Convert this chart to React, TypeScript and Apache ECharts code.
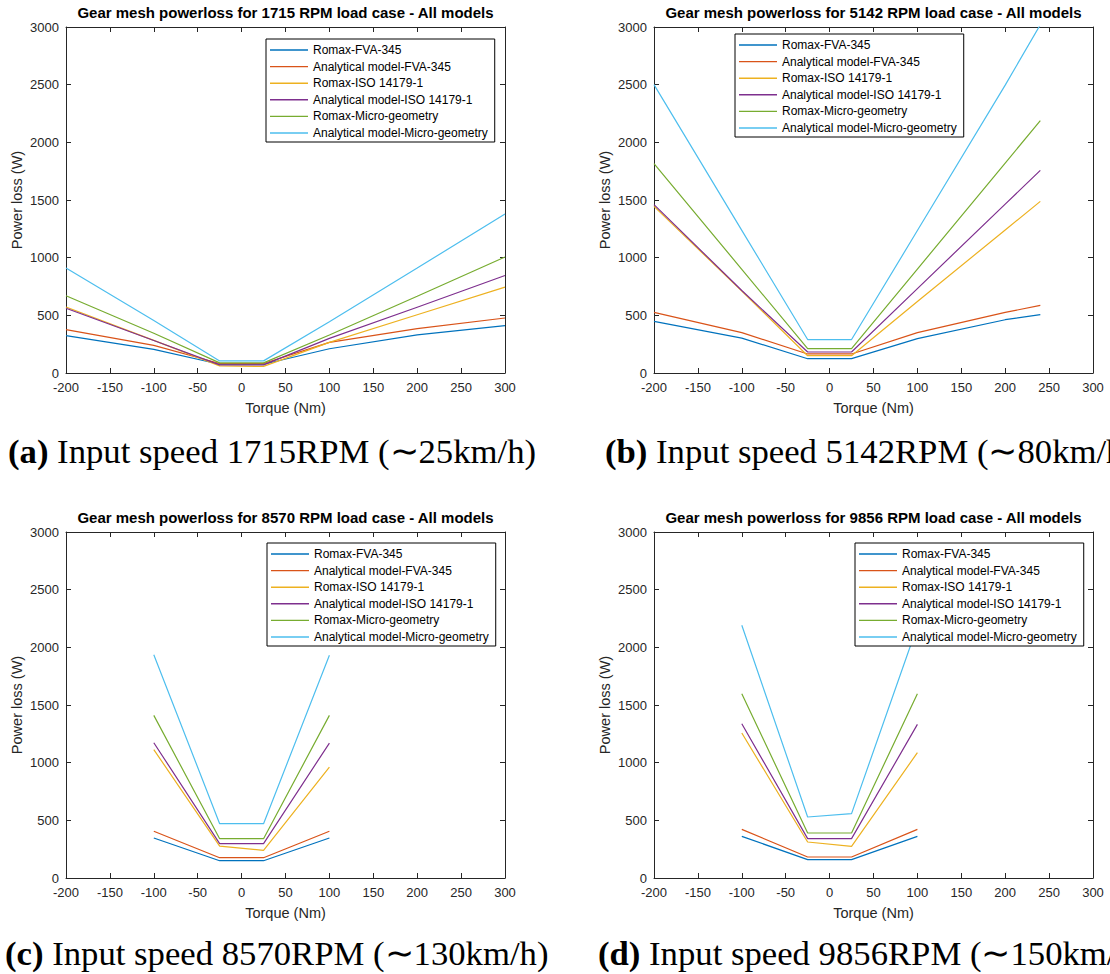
import React, { useEffect, useRef } from "react";
import * as echarts from "echarts";

// ---------- data ----------
const SERIES_NAMES = [
  "Romax-FVA-345",
  "Analytical model-FVA-345",
  "Romax-ISO 14179-1",
  "Analytical model-ISO 14179-1",
  "Romax-Micro-geometry",
  "Analytical model-Micro-geometry",
];
const COLORS = ["#0072BD", "#D95319", "#EDB120", "#7E2F8E", "#77AC30", "#4DBEEE"];

const X_MIN = -200;
const X_MAX = 300;
const X_STEP = 50;
const Y_MIN = 0;
const Y_MAX = 3000;
const Y_STEP = 500;

// 1715 RPM
const TORQUE_1715 = [-200, -100, -25, 25, 100, 200, 300];
const P1715_ROMAX_FVA = [324, 205, 76, 76, 210, 330, 410];
const P1715_ANA_FVA = [376, 240, 82, 82, 265, 385, 477];
const P1715_ROMAX_ISO = [572, 283, 62, 57, 265, 505, 744];
const P1715_ANA_ISO = [561, 282, 70, 70, 300, 570, 845];
const P1715_ROMAX_MICRO = [670, 345, 88, 88, 330, 665, 1006];
const P1715_ANA_MICRO = [911, 455, 105, 105, 445, 910, 1379];

// 5142 RPM
const TORQUE_5142 = [-200, -100, -25, 25, 100, 200, 240];
const P5142_ROMAX_FVA = [448, 303, 124, 124, 298, 462, 506];
const P5142_ANA_FVA = [526, 350, 165, 165, 350, 525, 587];
const P5142_ROMAX_ISO = [1445, 710, 150, 150, 620, 1240, 1488];
const P5142_ANA_ISO = [1460, 715, 182, 182, 732, 1464, 1757];
const P5142_ROMAX_MICRO = [1815, 899, 211, 211, 901, 1820, 2188];
const P5142_ANA_MICRO = [2500, 1237, 290, 290, 1235, 2496, 3020];

// 8570 RPM
const TORQUE_8570 = [-100, -25, 25, 100];
const P8570_ROMAX_FVA = [347, 150, 150, 347];
const P8570_ANA_FVA = [405, 176, 176, 405];
const P8570_ROMAX_ISO = [1113, 277, 240, 962];
const P8570_ANA_ISO = [1173, 298, 298, 1170];
const P8570_ROMAX_MICRO = [1410, 341, 341, 1410];
const P8570_ANA_MICRO = [1936, 471, 471, 1931];

// 9856 RPM
const TORQUE_9856 = [-100, -25, 25, 100];
const P9856_ROMAX_FVA = [361, 159, 159, 361];
const P9856_ANA_FVA = [422, 182, 182, 422];
const P9856_ROMAX_ISO = [1257, 312, 275, 1087];
const P9856_ANA_ISO = [1338, 341, 341, 1332];
const P9856_ROMAX_MICRO = [1598, 390, 390, 1598];
const P9856_ANA_MICRO = [2191, 529, 558, 2185];

const TITLES = [
  "Gear mesh powerloss for 1715 RPM load case - All models",
  "Gear mesh powerloss for 5142 RPM load case - All models",
  "Gear mesh powerloss for 8570 RPM load case - All models",
  "Gear mesh powerloss for 9856 RPM load case - All models",
];
const CAPTION_TAGS = ["(a)", "(b)", "(c)", "(d)"];
const CAPTIONS = [
  "Input speed 1715RPM (∼25km/h)",
  "Input speed 5142RPM (∼80km/h)",
  "Input speed 8570RPM (∼130km/h)",
  "Input speed 9856RPM (∼150km/h)",
];
const X_NAME = "Torque (Nm)";
const Y_NAME = "Power loss (W)";

const PANEL_DATA = [
  { torque: TORQUE_1715, values: [P1715_ROMAX_FVA, P1715_ANA_FVA, P1715_ROMAX_ISO, P1715_ANA_ISO, P1715_ROMAX_MICRO, P1715_ANA_MICRO] },
  { torque: TORQUE_5142, values: [P5142_ROMAX_FVA, P5142_ANA_FVA, P5142_ROMAX_ISO, P5142_ANA_ISO, P5142_ROMAX_MICRO, P5142_ANA_MICRO] },
  { torque: TORQUE_8570, values: [P8570_ROMAX_FVA, P8570_ANA_FVA, P8570_ROMAX_ISO, P8570_ANA_ISO, P8570_ROMAX_MICRO, P8570_ANA_MICRO] },
  { torque: TORQUE_9856, values: [P9856_ROMAX_FVA, P9856_ANA_FVA, P9856_ROMAX_ISO, P9856_ANA_ISO, P9856_ROMAX_MICRO, P9856_ANA_MICRO] },
];

// ---------- layout ----------
const GRID_W = 439;
const GRID_H = 346;
const LAYOUT = [
  { left: 66, top: 27, legendLeft: 266, legendTop: 39, capX: 8, capY: 451 },
  { left: 654, top: 27, legendLeft: 735, legendTop: 34, capX: 605, capY: 451 },
  { left: 66, top: 532, legendLeft: 267, legendTop: 543, capX: 5, capY: 953 },
  { left: 654, top: 532, legendLeft: 855, legendTop: 543, capX: 598, capY: 953 },
];

const AXIS_COLOR = "#262626";
const SANS = "'Liberation Sans', Arial, sans-serif";
const SERIF = "'Liberation Serif', 'Times New Roman', serif";
const CAP_SIZE = 34.7;

function buildOption() {
  const grid: any[] = [];
  const xAxis: any[] = [];
  const yAxis: any[] = [];
  const series: any[] = [];
  const legend: any[] = [];
  const title: any[] = [];
  const graphic: any[] = [];
  const plain = (v: number) => String(v);

  LAYOUT.forEach((l, i) => {
    grid.push({ left: l.left, top: l.top, width: GRID_W, height: GRID_H, containLabel: false });
    const axisLine = { show: true, onZero: false, lineStyle: { color: AXIS_COLOR, width: 1 } };
    const tick = { show: true, inside: true, length: 5, lineStyle: { color: AXIS_COLOR } };
    xAxis.push({
      type: "value", gridIndex: i, position: "bottom", min: X_MIN, max: X_MAX, interval: X_STEP,
      axisLine, axisTick: tick, splitLine: { show: false },
      axisLabel: { color: AXIS_COLOR, fontSize: 13, fontFamily: SANS, margin: 8, formatter: plain },
      name: X_NAME, nameLocation: "middle", nameGap: 27,
      nameTextStyle: { color: AXIS_COLOR, fontSize: 14.5, fontFamily: SANS },
    });
    xAxis.push({
      type: "value", gridIndex: i, position: "top", min: X_MIN, max: X_MAX, interval: X_STEP,
      axisLine, axisTick: tick, splitLine: { show: false }, axisLabel: { show: false },
    });
    yAxis.push({
      type: "value", gridIndex: i, position: "left", min: Y_MIN, max: Y_MAX, interval: Y_STEP,
      axisLine, axisTick: tick, splitLine: { show: false },
      axisLabel: { color: AXIS_COLOR, fontSize: 13, fontFamily: SANS, margin: 7, formatter: plain },
      name: Y_NAME, nameLocation: "middle", nameGap: 42,
      nameTextStyle: { color: AXIS_COLOR, fontSize: 14.5, fontFamily: SANS },
    });
    yAxis.push({
      type: "value", gridIndex: i, position: "right", min: Y_MIN, max: Y_MAX, interval: Y_STEP,
      axisLine, axisTick: tick, splitLine: { show: false }, axisLabel: { show: false },
    });

    const pd = PANEL_DATA[i];
    SERIES_NAMES.forEach((name, s) => {
      series.push({
        type: "line", name, xAxisIndex: 2 * i, yAxisIndex: 2 * i,
        data: pd.torque.map((t, k) => [t, pd.values[s][k]]),
        symbol: "none", clip: true,
        lineStyle: { color: COLORS[s], width: 1.2 },
        itemStyle: { color: COLORS[s] },
        emphasis: { disabled: true },
      });
    });

    legend.push({
      orient: "vertical", left: l.legendLeft, top: l.legendTop,
      data: SERIES_NAMES, icon: "rect", itemWidth: 38, itemHeight: 1.4, itemGap: 4.6,
      padding: [5, 7, 3, 4], borderColor: "#000", borderWidth: 1, backgroundColor: "#fff",
      textStyle: { color: "#000", fontSize: 12, fontFamily: SANS },
      selectedMode: false,
    });

    title.push({
      text: TITLES[i], left: l.left + GRID_W / 2, top: l.top - 22, textAlign: "center",
      textStyle: { color: "#000", fontSize: 15, fontWeight: "bold", fontFamily: SANS },
      padding: 0,
    });

    graphic.push({
      type: "text", x: l.capX, y: l.capY,
      style: {
        text: "{b|" + CAPTION_TAGS[i] + "} " + CAPTIONS[i],
        fill: "#000", font: CAP_SIZE + "px " + SERIF, verticalAlign: "middle", align: "left",
        rich: { b: { fontWeight: "bold", fontSize: CAP_SIZE, fontFamily: SERIF, fill: "#000" } },
      },
    });
  });

  return {
    animation: false,
    backgroundColor: "#fff",
    grid, xAxis, yAxis, series, legend, title, graphic,
  };
}

export default function App() {
  const ref = useRef<HTMLDivElement>(null);
  useEffect(() => {
    if (!ref.current) return;
    const chart = echarts.init(ref.current, undefined, { renderer: "svg" });
    chart.setOption(buildOption() as any);
    return () => chart.dispose();
  }, []);
  return (
    <div
      ref={ref}
      style={{ position: "fixed", left: 0, top: 0, width: 1110, height: 974, background: "#fff" }}
    />
  );
}
